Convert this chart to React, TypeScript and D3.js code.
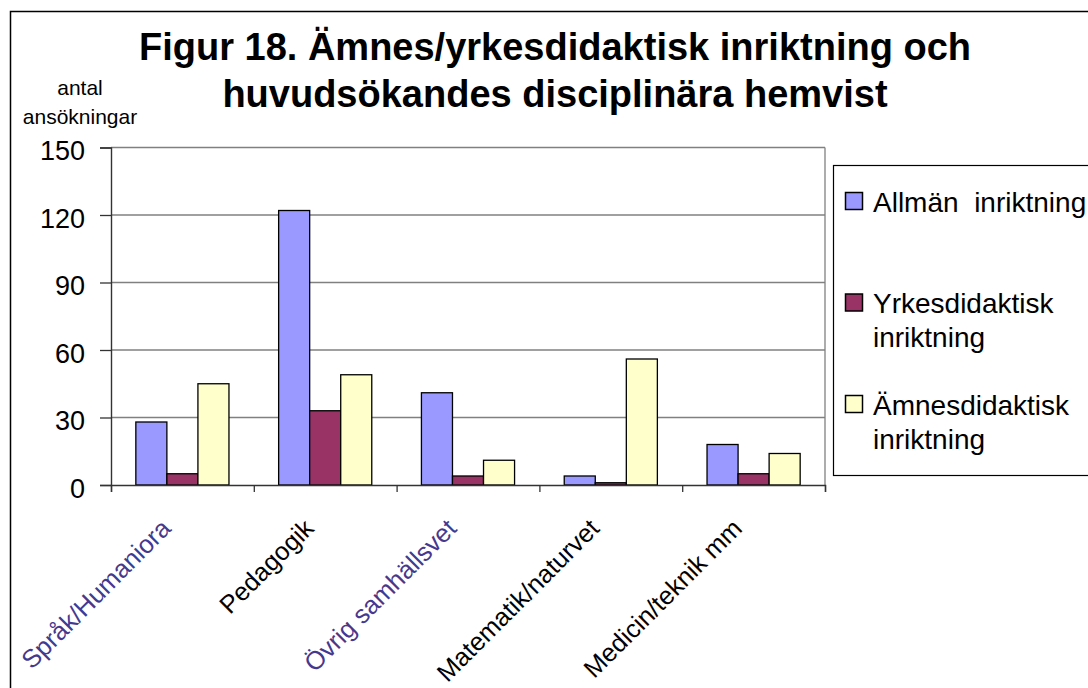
import React, { useEffect, useRef } from 'react';
import * as d3 from 'd3';

const categories = ['Språk/Humaniora', 'Pedagogik', 'Övrig samhällsvet', 'Matematik/naturvet', 'Medicin/teknik mm'];
const seriesNames = ['Allmän  inriktning', 'Yrkesdidaktisk inriktning', 'Ämnesdidaktisk inriktning'];
const legendLines = [['Allmän  inriktning'], ['Yrkesdidaktisk', 'inriktning'], ['Ämnesdidaktisk', 'inriktning']];
const allman = [28, 122, 41, 4, 18];
const yrkes = [5, 33, 4, 1, 5];
const amnes = [45, 49, 11, 56, 14];
const yTicks = [0, 30, 60, 90, 120, 150];
const titleLines = ['Figur 18. Ämnes/yrkesdidaktisk inriktning och', 'huvudsökandes disciplinära hemvist'];
const yTitleLines = ['antal', 'ansökningar'];
const colors = ['#9999FF', '#993366', '#FFFFCC'];
const labelColors = ['#45398f', '#000', '#45398f', '#000', '#000'];

export default function App() {
  const ref = useRef<SVGSVGElement | null>(null);

  useEffect(() => {
    if (!ref.current) return;
    const svg = d3.select(ref.current);
    svg.selectAll('*').remove();

    const font = "'Liberation Sans', Arial, sans-serif";
    const left = 111, right = 825, top = 147.5, bottom = 485;
    const values = [allman, yrkes, amnes];

    // outer chart border
    svg.append('rect')
      .attr('x', 10.5).attr('y', 11.5)
      .attr('width', 1100).attr('height', 700)
      .attr('fill', '#fff').attr('stroke', '#000').attr('stroke-width', 1.5);

    const x0 = d3.scaleBand<string>().domain(categories).range([left, right]);
    const x1 = d3.scaleBand<string>().domain(seriesNames)
      .range([0, x0.bandwidth()]).paddingInner(0).paddingOuter(0.8);
    const y = d3.scaleLinear().domain([0, 150]).range([bottom, top]);

    // gridlines
    svg.append('g').selectAll('line').data(yTicks.filter(t => t > 0)).join('line')
      .attr('x1', left).attr('x2', right)
      .attr('y1', d => y(d)).attr('y2', d => y(d))
      .attr('stroke', '#808080').attr('stroke-width', 1.3);
    svg.append('line')
      .attr('x1', right).attr('x2', right).attr('y1', top).attr('y2', bottom)
      .attr('stroke', '#808080').attr('stroke-width', 1.3);

    // bars
    values.forEach((vals, si) => {
      svg.append('g').selectAll('rect').data(vals).join('rect')
        .attr('x', (d, i) => x0(categories[i])! + x1(seriesNames[si])!)
        .attr('y', d => y(d))
        .attr('width', x1.bandwidth())
        .attr('height', d => bottom - y(d))
        .attr('fill', colors[si])
        .attr('stroke', '#000').attr('stroke-width', 1.3);
    });

    // y axis
    const yAxis = d3.axisLeft(y).tickValues(yTicks).tickSize(11).tickPadding(15);
    svg.append('g')
      .attr('transform', `translate(${left},0)`)
      .call(yAxis)
      .call(g => g.select('.domain').attr('stroke', '#333').attr('stroke-width', 1.4))
      .call(g => g.selectAll('.tick line').attr('stroke', '#333').attr('stroke-width', 1.3))
      .call(g => g.selectAll('.tick text')
        .attr('fill', '#000').attr('font-size', '27px').attr('font-family', font)
        .attr('dy', '0.45em'));

    // x axis
    const xEdges = d3.scaleLinear().domain([0, categories.length]).range([left, right]);
    const xAxis = d3.axisBottom(xEdges).tickValues(d3.range(categories.length + 1)).tickSize(7).tickFormat(() => '');
    svg.append('g')
      .attr('transform', `translate(0,${bottom})`)
      .call(xAxis)
      .call(g => g.select('.domain').attr('stroke', '#333').attr('stroke-width', 1.4))
      .call(g => g.selectAll('.tick line').attr('stroke', '#333').attr('stroke-width', 1.3));

    // category labels
    svg.append('g').selectAll('text').data(categories).join('text')
      .attr('transform', d => `translate(${x0(d)! + x0.bandwidth() / 2 - 10},${bottom + 45}) rotate(-45)`)
      .attr('text-anchor', 'end')
      .attr('font-family', font).attr('font-size', '25.5px')
      .attr('fill', (d, i) => labelColors[i])
      .text(d => d);

    // title
    svg.append('g').selectAll('text').data(titleLines).join('text')
      .attr('x', 555).attr('y', (d, i) => 60 + i * 47)
      .attr('text-anchor', 'middle')
      .attr('font-family', font).attr('font-size', '38px').attr('font-weight', 'bold')
      .text(d => d);

    // y title
    svg.append('g').selectAll('text').data(yTitleLines).join('text')
      .attr('x', 80).attr('y', (d, i) => 95 + i * 29)
      .attr('text-anchor', 'middle')
      .attr('font-family', font).attr('font-size', '21px')
      .text(d => d);

    // legend
    const legend = svg.append('g');
    legend.append('rect')
      .attr('x', 833.5).attr('y', 165.5).attr('width', 300).attr('height', 310)
      .attr('fill', '#fff').attr('stroke', '#000').attr('stroke-width', 1.2);
    const ly = d3.scalePoint<string>().domain(seriesNames).range([201, 404]);
    seriesNames.forEach((s, i) => {
      const cy = ly(s)!;
      legend.append('rect')
        .attr('x', 845.5).attr('y', cy - 8.5).attr('width', 17).attr('height', 17)
        .attr('fill', colors[i]).attr('stroke', '#000').attr('stroke-width', 1.5);
      legendLines[i].forEach((line, j) => {
        legend.append('text')
          .attr('x', 873).attr('y', cy + 10.5 + j * 34)
          .attr('font-family', font).attr('font-size', '28px')
          .style('white-space', 'pre')
          .text(line);
      });
    });
  }, []);

  return (
    <svg ref={ref} width={1088} height={688}
      style={{ position: 'absolute', left: 0, top: 0, background: '#fff' }} />
  );
}
